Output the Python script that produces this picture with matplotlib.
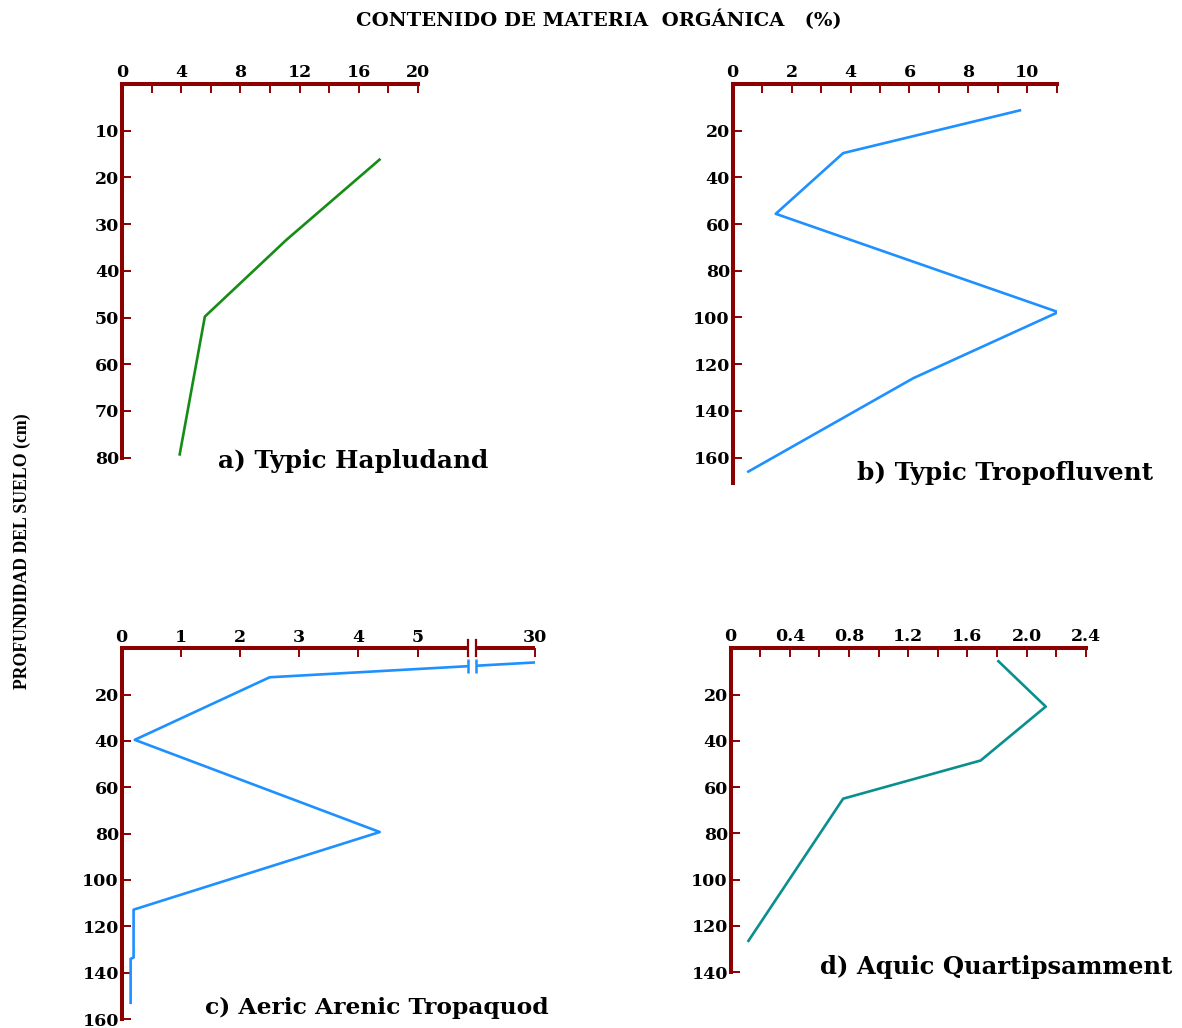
import numpy as np
import matplotlib.pyplot as plt
from matplotlib.transforms import blended_transform_factory

plt.rcParams['font.family'] = ['DejaVu Serif']
plt.rcParams['font.weight'] = 'bold'

# a) Typic Hapludand
mo_a = [17.4, 11.1, 5.6, 3.9]
prof_a = [16.2, 33.4, 49.8, 79.3]
# b) Typic Tropofluvent
mo_b = [9.75, 3.75, 1.46, 11.05, 6.13, 0.53]
prof_b = [11.3, 29.6, 55.6, 97.7, 126, 166]
# c) Aeric Arenic Tropaquod (eje x cortado entre 5.85 y 29)
mo_c = [30, 2.5, 0.22, 4.36, 0.2, 0.2, 0.15, 0.15]
prof_c = [6.1, 12.5, 39.5, 79.3, 112.8, 133.5, 134, 153]
# d) Aquic Quartipsamment
mo_d = [1.81, 2.13, 1.69, 0.76, 0.12]
prof_d = [5.6, 25.2, 48.5, 65, 126.4]

MARRON = '#8b0000'
VERDE = '#158c15'
AZUL = '#1e90ff'
TEAL = '#0a8f8f'

fig = plt.figure(figsize=(11.82, 10.28), dpi=100)


def estilo(ax, xlim, ylim, xmaj, xlab, xmin, yticks):
    ax.set_xlim(*xlim)
    ax.set_ylim(ylim[1], ylim[0])
    for s in ['right', 'bottom']:
        ax.spines[s].set_visible(False)
    for s in ['top', 'left']:
        ax.spines[s].set_color(MARRON)
        ax.spines[s].set_linewidth(2.9)
    ax.xaxis.tick_top()
    ax.set_xticks(xmaj, xlab)
    ax.set_xticks(xmin, minor=True)
    ax.set_yticks(yticks, [str(v) for v in yticks])
    ax.tick_params(which='both', direction='in', length=6.5, width=1.4,
                   color=MARRON, labelsize=12.5, pad=2)
    ax.patch.set_alpha(0)


# panel a
ax_a = fig.add_axes([0.1032, 0.5548, 0.2504, 0.3635])
ax_a.plot(mo_a, prof_a, color=VERDE, lw=1.9)
estilo(ax_a, (0, 20), (0, 80), [0, 4, 8, 12, 16, 20],
       ['0', '4', '8', '12', '16', '20'], [2, 6, 10, 14, 18],
       list(range(10, 81, 10)))

# panel b
ax_b = fig.add_axes([0.6199, 0.5299, 0.2741, 0.3884])
ax_b.plot(mo_b, prof_b, color=AZUL, lw=1.9)
estilo(ax_b, (0, 11), (0, 171), [0, 2, 4, 6, 8, 10],
       ['0', '2', '4', '6', '8', '10'], [1, 3, 5, 7, 9, 11],
       list(range(20, 161, 20)))

# panel c con escala partida
X1, X2, HUECO = 5.845, 29.0, 0.14


def fwd(v):
    v = np.asarray(v, float)
    return np.where(v <= X1, v,
                    np.where(v >= X2, v - X2 + X1 + HUECO,
                             X1 + (v - X1) * HUECO / (X2 - X1)))


def inv(u):
    u = np.asarray(u, float)
    return np.where(u <= X1, u,
                    np.where(u >= X1 + HUECO, u + X2 - X1 - HUECO,
                             X1 + (u - X1) * (X2 - X1) / HUECO))


ax_c = fig.add_axes([0.1030, 0.00875, 0.3497, 0.3606])
ax_c.set_xscale('function', functions=(fwd, inv))
ax_c.plot(mo_c, prof_c, color=AZUL, lw=1.9, zorder=2)
estilo(ax_c, (0, 30), (0, 160), [0, 1, 2, 3, 4, 5, 30],
       ['0', '1', '2', '3', '4', '5', '30'], [],
       list(range(20, 161, 20)))
ax_c.spines['top'].set_visible(False)
ax_c.axvspan(X1, X2, color='white', zorder=3)
tr = blended_transform_factory(ax_c.transData, ax_c.transAxes)
for x0, x1 in [(0, X1), (X2, 30)]:
    ax_c.plot([x0, x1], [1, 1], transform=tr, color=MARRON, lw=2.9,
              clip_on=False, solid_capstyle='butt', zorder=5)
for xb in [X1, X2]:
    ax_c.plot([xb, xb], [0.978, 1.022], transform=tr, color=MARRON, lw=1.6,
              clip_on=False, zorder=5)
y_corte = np.interp(fwd([X1, X2]), fwd(mo_c[1::-1]), prof_c[1::-1])
ax_c.plot([X1, X2], y_corte, ls='none', marker='|', ms=9.5, mew=1.8,
          color=AZUL, zorder=4)

# panel d
ax_d = fig.add_axes([0.6182, 0.0542, 0.3003, 0.3152])
ax_d.plot(mo_d, prof_d, color=TEAL, lw=1.9)
estilo(ax_d, (0, 2.4), (0, 140), [0, 0.4, 0.8, 1.2, 1.6, 2.0, 2.4],
       ['0', '0.4', '0.8', '1.2', '1.6', '2.0', '2.4'],
       [0.2, 0.6, 1.0, 1.4, 1.8, 2.2], list(range(20, 141, 20)))

# textos
fig.text(0.1844, 0.5516, 'a) Typic Hapludand', fontsize=17.8, va='center')
fig.text(0.7250, 0.5399, 'b) Typic Tropofluvent', fontsize=17.8, va='center')
fig.text(0.1734, 0.0195, 'c) Aeric Arenic Tropaquod', fontsize=16.8, va='center')
fig.text(0.6937, 0.0593, 'd) Aquic Quartipsamment', fontsize=17.5, va='center')

fig.text(0.5068, 0.9805, 'CONTENIDO DE MATERIA  ORGÁNICA   (%)',
         fontsize=14, ha='center', va='center')
fig.text(0.0186, 0.464, 'PROFUNDIDAD DEL SUELO (cm)', rotation=90,
         family='Liberation Serif', fontsize=12.8, ha='center', va='center')

fig.savefig('out.png', dpi=100)
